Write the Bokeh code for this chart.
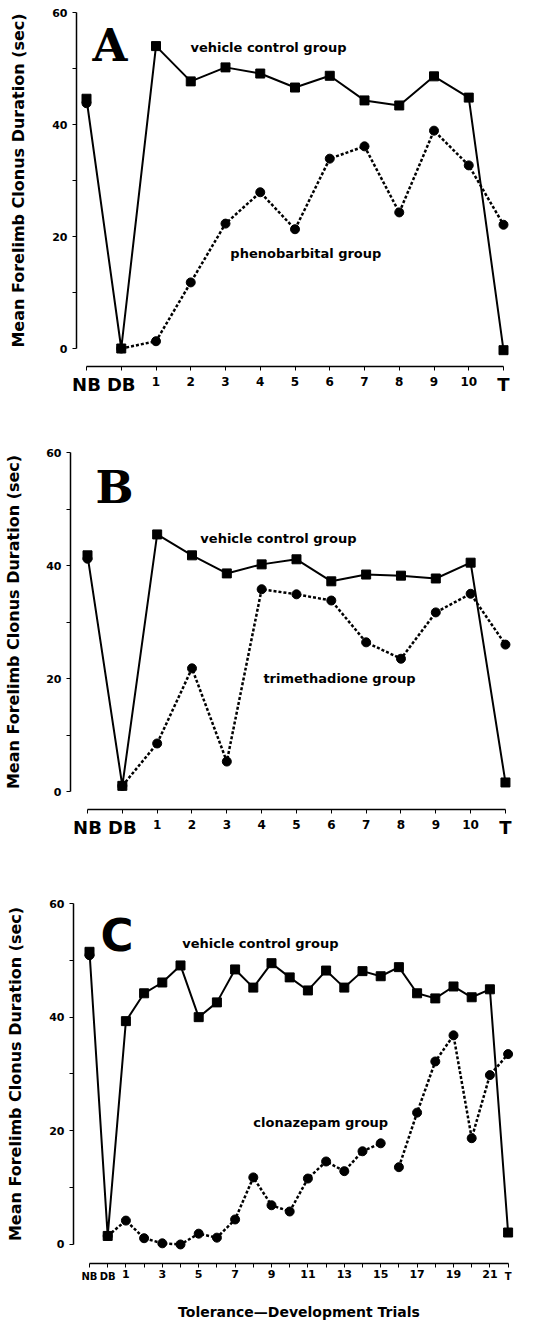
from bokeh.plotting import figure
from bokeh.layouts import column
from bokeh.models import FixedTicker, Label, Range1d
from bokeh.core.properties import value
from bokeh.embed import file_html
from bokeh.resources import INLINE

# ---------------- data ----------------
a_ticks = ["NB", "DB", "1", "2", "3", "4", "5", "6", "7", "8", "9", "10", "T"]
a_vehicle = [44.6, 0.0, 54.0, 47.7, 50.2, 49.1, 46.6, 48.7, 44.3, 43.4, 48.6, 44.8, -0.3]
a_drug = [43.8, 0.0, 1.3, 11.8, 22.3, 27.9, 21.3, 33.9, 36.1, 24.3, 38.9, 32.7, 22.1]

b_ticks = ["NB", "DB", "1", "2", "3", "4", "5", "6", "7", "8", "9", "10", "T"]
b_vehicle = [41.8, 1.0, 45.5, 41.8, 38.6, 40.2, 41.1, 37.2, 38.4, 38.2, 37.7, 40.5, 1.6]
b_drug = [41.2, 1.0, 8.5, 21.8, 5.3, 35.8, 34.9, 33.8, 26.4, 23.5, 31.7, 35.0, 26.0]

c_ticks = ["NB", "DB", "1", "2", "3", "4", "5", "6", "7", "8", "9", "10", "11",
           "12", "13", "14", "15", "16", "17", "18", "19", "20", "21", "T"]
c_vehicle = [51.5, 1.5, 39.3, 44.2, 46.1, 49.1, 40.0, 42.6, 48.4, 45.2, 49.5, 47.0,
             44.7, 48.2, 45.2, 48.1, 47.2, 48.8, 44.2, 43.3, 45.4, 43.5, 44.9, 2.1]
c_drug = [50.9, 1.5, 4.2, 1.1, 0.2, 0.0, 1.9, 1.2, 4.4, 11.8, 6.9, 5.8,
          11.6, 14.6, 12.9, 16.4, 17.8, 13.6, 23.2, 32.2, 36.8, 18.7, 29.8, 33.5]
c_break_after = "15"   # dotted line not drawn between trial 15 and 16

y_ticks = [0, 20, 40, 60]
y_minor = [10, 30, 50]
y_title = "Mean Forelimb Clonus Duration (sec)"
x_title = "Tolerance\u2014Development Trials"

FONT = "DejaVu Sans"
W = 527


def panel(ticks, vehicle, drug, letter, letter_font, veh_text, veh_xy, drug_text, drug_xy,
          letter_xy, height, top60, ppu, gap, below, axis_px, first_px, step_px,
          num_size, word_size, word_off, label_step=1, break_after=None, xtitle=None,
          ylab_standoff=21, tick_standoff=6, title_standoff=20):
    n = len(ticks)
    xs = list(range(n))
    head = 10  # px of frame kept above the 60 tick
    top = top60 - head
    frame_h = int(round(60 * ppu + gap + below + head))
    x_start = -first_px / step_px
    x_end = x_start + (W - 7) / step_px
    y_axis_at = -(first_px - axis_px) / step_px
    x_axis_at = -gap / ppu
    y_start = x_axis_at - below / ppu
    y_end = 60 + head / ppu
    p = figure(width=W, height=height, output_backend="svg", toolbar_location=None,
               x_range=Range1d(x_start, x_end), y_range=Range1d(y_start, y_end),
               min_border_left=0, min_border_right=7, min_border_top=top,
               min_border_bottom=max(height - top - frame_h, 0))
    p.outline_line_color = None
    p.xgrid.grid_line_color = None
    p.ygrid.grid_line_color = None
    p.background_fill_color = "white"
    p.border_fill_color = "white"

    # y axis
    ya = p.yaxis[0]
    ya.fixed_location = y_axis_at
    ya.ticker = FixedTicker(ticks=y_ticks, minor_ticks=y_minor)
    ya.bounds = (0, 60)
    ya.axis_line_width = 1.5
    ya.axis_line_color = "black"
    ya.major_tick_line_color = "black"
    ya.minor_tick_line_color = "black"
    ya.major_tick_out = 4
    ya.major_tick_in = 0
    ya.minor_tick_out = 4
    ya.minor_tick_in = 0
    ya.major_label_text_font = FONT
    ya.major_label_text_font_style = "bold"
    ya.major_label_text_font_size = "11px"
    ya.major_label_text_color = "black"
    ya.major_label_standoff = 5
    ya.axis_label = y_title
    ya.axis_label_text_font = FONT
    ya.axis_label_text_font_style = "bold"
    ya.axis_label_text_font_size = "16px"
    ya.axis_label_text_color = "black"
    ya.axis_label_standoff = ylab_standoff

    # x axis, detached below the zero line
    xa = p.xaxis[0]
    xa.fixed_location = x_axis_at
    xa.ticker = FixedTicker(ticks=xs, minor_ticks=[])
    xa.bounds = (0, n - 1)
    xa.axis_line_width = 1.5
    xa.axis_line_color = "black"
    xa.major_tick_line_color = "black"
    xa.major_tick_out = 4
    xa.major_tick_in = 0
    xa.minor_tick_out = 0
    xa.minor_tick_in = 0
    overrides = {}
    word_idx = []
    for i, t in enumerate(ticks):
        if t.isdigit():
            overrides[i] = t if (int(t) - 1) % label_step == 0 else ""
        else:
            overrides[i] = ""
            word_idx.append(i)
    xa.major_label_overrides = overrides
    xa.major_label_text_font = FONT
    xa.major_label_text_font_style = "bold"
    xa.major_label_text_font_size = num_size
    xa.major_label_text_color = "black"
    xa.major_label_standoff = tick_standoff
    if xtitle:
        xa.axis_label = xtitle
        xa.axis_label_text_font = FONT
        xa.axis_label_text_font_style = "bold"
        xa.axis_label_text_font_size = "14px"
        xa.axis_label_text_color = "black"
        xa.axis_label_standoff = title_standoff

    # word tick labels (NB, DB, T) in their own, larger type
    p.text(x=word_idx, y=[x_axis_at - word_off / ppu] * len(word_idx),
           text=[ticks[i] for i in word_idx], text_align="center", text_baseline="middle",
           text_font=value(FONT), text_font_style="bold", text_font_size=value(word_size),
           text_color="black")

    # vehicle: solid line with squares
    p.line(xs, vehicle, line_color="black", line_width=2)
    # drug: dotted line from DB onward
    if break_after is not None:
        b = ticks.index(break_after)
        segs = [(1, b + 1), (b + 1, n)]
    else:
        segs = [(1, n)]
    for s, e in segs:
        p.line(xs[s:e], drug[s:e], line_color="black", line_width=2.5, line_dash="3 2")
    p.scatter(xs, drug, marker="circle", size=9, color="black")
    p.scatter(xs, vehicle, marker="square", size=9, color="black")

    p.add_layout(Label(x=letter_xy[0], y=letter_xy[1], text=letter, text_font=letter_font,
                       text_font_style="bold", text_font_size="45px", text_color="black",
                       text_align="left", text_baseline="alphabetic"))
    for txt, (tx, ty) in ((veh_text, veh_xy), (drug_text, drug_xy)):
        p.add_layout(Label(x=tx, y=ty, text=txt, text_font=FONT, text_font_style="bold",
                           text_font_size="13px", text_color="black",
                           text_align="left", text_baseline="middle"))
    return p


pa = panel(a_ticks, a_vehicle, a_drug, "A", "DejaVu Serif",
           "vehicle control group", (2.99, 53.8), "phenobarbital group", (4.14, 17.0),
           (0.17, 54.1), height=440, top60=12, ppu=5.6, gap=18, below=30, axis_px=76,
           first_px=86, step_px=34.75, num_size="12px", word_size="18px", word_off=18)
pb = panel(b_ticks, b_vehicle, b_drug, "B", "DejaVu Serif",
           "vehicle control group", (3.24, 44.8), "trimethadione group", (5.05, 20.0),
           (0.23, 53.8), height=440, top60=12, ppu=5.65, gap=18, below=30, axis_px=70,
           first_px=87, step_px=34.83, num_size="12px", word_size="18px", word_off=18,
           ylab_standoff=20)
pc = panel(c_ticks, c_vehicle, c_drug, "C", "DejaVu Sans",
           "vehicle control group", (5.1, 53.0), "clonazepam group", (9.0, 21.5),
           (0.6, 54.4), height=447, top60=23, ppu=5.68, gap=19, below=62, axis_px=73,
           first_px=89, step_px=18.2, num_size="11px", word_size="10px", word_off=13,
           label_step=2, break_after=c_break_after, xtitle=x_title, tick_standoff=3,
           title_standoff=22)

layout = column(pa, pb, pc, spacing=0)
open("out.html", "w").write(file_html(layout, INLINE))
